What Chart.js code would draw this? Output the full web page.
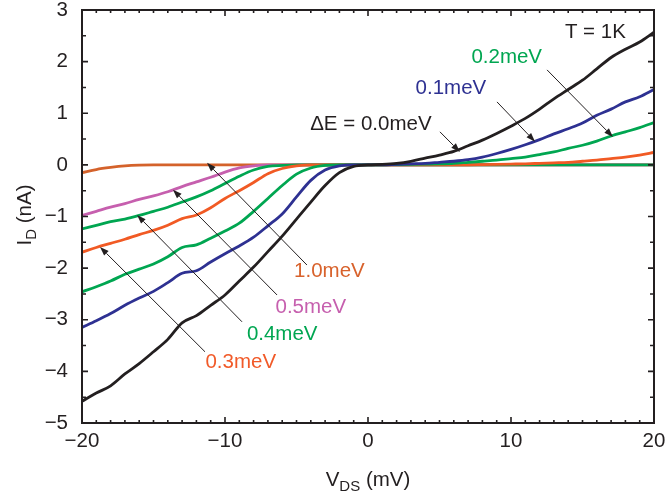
<!DOCTYPE html>
<html>
<head>
<meta charset="utf-8">
<script src="https://cdn.jsdelivr.net/npm/chart.js@4"></script>
<style>
  html, body { margin: 0; padding: 0; background: #fff; }
  #c { display: block; }
</style>
</head>
<body>
<canvas id="c" width="666" height="498"></canvas>
<script>
// V_DS (mV) sample points
const vds = [-20,-19,-18,-17,-16,-15,-14,-13,-12,-11,-10,-9,-8,-7,-6,-5,-4,-3,-2,-1,0,
             1,2,3,4,5,6,7,8,9,10,11,12,13,14,15,16,17,18,19,20];

// I_D (nA) for each ΔE
const id00 = [-4.58,-4.42,-4.28,-4.05,-3.85,-3.62,-3.38,-3.06,-2.92,-2.72,-2.52,-2.25,-1.98,-1.68,-1.38,-1.05,-0.72,-0.40,-0.15,-0.03,0,
              0.01,0.03,0.07,0.13,0.19,0.26,0.37,0.48,0.61,0.75,0.90,1.08,1.28,1.46,1.64,1.86,2.08,2.24,2.38,2.57];
const id01 = [-3.15,-3.02,-2.88,-2.72,-2.58,-2.45,-2.28,-2.10,-2.05,-1.88,-1.72,-1.57,-1.40,-1.18,-0.95,-0.62,-0.30,-0.10,-0.02,0,0,
              0,0.01,0.02,0.03,0.05,0.07,0.10,0.15,0.22,0.30,0.39,0.49,0.60,0.70,0.81,0.96,1.08,1.22,1.32,1.46];
const id02 = [-2.46,-2.36,-2.25,-2.12,-2.02,-1.92,-1.78,-1.60,-1.55,-1.42,-1.28,-1.13,-0.90,-0.65,-0.40,-0.18,-0.06,-0.01,0,0,0,
              0,0.005,0.01,0.015,0.02,0.03,0.05,0.07,0.09,0.12,0.15,0.20,0.25,0.32,0.38,0.46,0.56,0.64,0.72,0.82];
const id03 = [-1.69,-1.60,-1.52,-1.44,-1.35,-1.27,-1.17,-1.04,-0.97,-0.83,-0.65,-0.50,-0.34,-0.17,-0.07,-0.02,0,0,0,0,0,
              0,0,0,0,0,0,0,0.005,0.01,0.015,0.02,0.03,0.04,0.05,0.07,0.09,0.12,0.15,0.19,0.24];
const id04 = [-1.24,-1.17,-1.10,-1.05,-0.98,-0.90,-0.82,-0.72,-0.62,-0.50,-0.36,-0.22,-0.10,-0.03,-0.01,0,0,0,0,0,0,
              0,0,0,0,0,0,0,0,0,0,0,0,0,0,0,0,0,0,0,0];
const id05 = [-0.98,-0.90,-0.82,-0.75,-0.67,-0.60,-0.52,-0.42,-0.33,-0.24,-0.14,-0.06,-0.02,0,0,0,0,0,0,0,0,
              0,0,0,0,0,0,0,0,0,0,0,0,0,0,0,0,0,0,0,0];
const id10 = [-0.15,-0.09,-0.05,-0.02,-0.005,0,0,0,0,0,0,0,0,0,0,0,0,0,0,0,0,
              0,0,0,0,0,0,0,0,0,0,0,0,0,0,0,0,0,0,0,0];

const xTicks = [-20, -10, 0, 10, 20];
const yTicks = [-5, -4, -3, -2, -1, 0, 1, 2, 3];

// annotation texts (data coords of text centre) and arrows (from -> tip)
const notes = [
  { text: 'T = 1K',        x: 15.9, y: 2.56,  color: '#231f20' },
  { text: '0.2meV',        x: 9.7,  y: 2.09,  color: '#00a651' },
  { text: '0.1meV',        x: 5.8,  y: 1.49,  color: '#2e3192' },
  { text: '\u0394E = 0.0meV', x: 0.2, y: 0.78, color: '#231f20' },
  { text: '1.0meV',        x: -2.7, y: -2.07, color: '#d8622c' },
  { text: '0.5meV',        x: -4.0, y: -2.75, color: '#c65fae' },
  { text: '0.4meV',        x: -6.0, y: -3.29, color: '#00a651' },
  { text: '0.3meV',        x: -8.9, y: -3.82, color: '#f15a29' }
];
const arrows = [
  { x0: 5.03,  y0: 0.64,  x1: 6.43,   y1: 0.25 },
  { x0: 9.02,  y0: 1.22,  x1: 11.68,  y1: 0.45 },
  { x0: 12.52, y0: 1.84,  x1: 17.13,  y1: 0.54 },
  { x0: -4.27, y0: -1.94, x1: -11.26, y1: 0.04 },
  { x0: -6.36, y0: -2.52, x1: -13.64, y1: -0.48 },
  { x0: -8.81, y0: -3.04, x1: -16.15, y1: -0.97 },
  { x0: -11.4, y0: -3.62, x1: -18.74, y1: -1.59 }
];

const FONT = '"Liberation Sans", Arial, Helvetica, sans-serif';
const INK = '#231f20';
const FS = 20.5;

function pts(ys) { return vds.map((x, i) => ({ x: x, y: ys[i] })); }
function series(label, ys, color, order) {
  return { label: label, data: pts(ys), borderColor: color, borderWidth: 2.8, order: order,
           pointRadius: 0, cubicInterpolationMode: 'monotone', fill: false };
}

const frame = {
  id: 'frame',
  afterDatasetsDraw(chart) {
    const ctx = chart.ctx, a = chart.chartArea;
    const xs = chart.scales.x, ys = chart.scales.y;
    ctx.save();
    ctx.strokeStyle = INK;
    ctx.lineWidth = 1.6;
    ctx.beginPath();
    for (let v = -20; v <= 20; v += 1) {
      const px = xs.getPixelForValue(v);
      const len = (v % 10 === 0) ? 6 : 3;
      ctx.moveTo(px, a.bottom); ctx.lineTo(px, a.bottom - len);
      ctx.moveTo(px, a.top); ctx.lineTo(px, a.top + len);
    }
    for (let v = -5; v <= 3; v += 0.5) {
      const py = ys.getPixelForValue(v);
      const len = Number.isInteger(v) ? 6 : 4;
      ctx.moveTo(a.left, py); ctx.lineTo(a.left + len, py);
      ctx.moveTo(a.right, py); ctx.lineTo(a.right - len, py);
    }
    ctx.stroke();
    ctx.lineWidth = 2;
    ctx.strokeRect(a.left, a.top, a.right - a.left, a.bottom - a.top);

    // arrows
    ctx.lineWidth = 1;
    ctx.fillStyle = INK;
    arrows.forEach(ar => {
      const x0 = xs.getPixelForValue(ar.x0), y0 = ys.getPixelForValue(ar.y0);
      const x1 = xs.getPixelForValue(ar.x1), y1 = ys.getPixelForValue(ar.y1);
      const ang = Math.atan2(y1 - y0, x1 - x0);
      const hl = 9, hw = 3.2;
      const bx = x1 - hl * Math.cos(ang), by = y1 - hl * Math.sin(ang);
      ctx.beginPath(); ctx.moveTo(x0, y0); ctx.lineTo(bx, by); ctx.stroke();
      ctx.beginPath();
      ctx.moveTo(x1, y1);
      ctx.lineTo(bx + hw * Math.sin(ang), by - hw * Math.cos(ang));
      ctx.lineTo(bx - hw * Math.sin(ang), by + hw * Math.cos(ang));
      ctx.closePath(); ctx.fill();
    });

    // labels
    ctx.font = FS + 'px ' + FONT;
    ctx.textAlign = 'center';
    ctx.textBaseline = 'middle';
    notes.forEach(n => {
      ctx.fillStyle = n.color;
      ctx.fillText(n.text, xs.getPixelForValue(n.x), ys.getPixelForValue(n.y));
    });

    // axis titles with subscripts
    function subTitle(main, sub, rest, cx, cy, rot) {
      ctx.save();
      ctx.translate(cx, cy);
      if (rot) ctx.rotate(-Math.PI / 2);
      ctx.fillStyle = INK;
      ctx.textBaseline = 'alphabetic';
      ctx.textAlign = 'left';
      const big = FS + 'px ' + FONT, small = '15px ' + FONT;
      ctx.font = big; const w1 = ctx.measureText(main).width;
      ctx.font = small; const w2 = ctx.measureText(sub).width;
      ctx.font = big; const w3 = ctx.measureText(rest).width;
      let x = -(w1 + w2 + w3) / 2;
      const base = 7;
      ctx.font = big; ctx.fillText(main, x, base); x += w1;
      ctx.font = small; ctx.fillText(sub, x, base + 5); x += w2;
      ctx.font = big; ctx.fillText(rest, x, base);
      ctx.restore();
    }
    subTitle('V', 'DS', ' (mV)', (a.left + a.right) / 2, 479, false);
    subTitle('I', 'D', ' (nA)', 24, 215, true);
    ctx.restore();
  }
};

function minus(v) { return String(v).replace('-', '\u2212'); }

new Chart(document.getElementById('c').getContext('2d'), {
  type: 'line',
  data: {
    datasets: [
      series('1.0meV', id10, '#d4622b', 6),
      series('0.5meV', id05, '#c65fae', 5),
      series('0.4meV', id04, '#00a651', 4),
      series('0.3meV', id03, '#f15a24', 3),
      series('0.2meV', id02, '#00a651', 2),
      series('0.1meV', id01, '#2e3192', 1),
      series('0.0meV', id00, '#231f20', 0)
    ]
  },
  options: {
    responsive: false,
    animation: false,
    layout: { padding: { top: 10, right: 12, left: 0, bottom: 0 } },
    plugins: { legend: { display: false }, tooltip: { enabled: false } },
    scales: {
      x: {
        type: 'linear', min: -20, max: 20,
        afterBuildTicks(s) { s.ticks = xTicks.map(v => ({ value: v })); },
        afterFit(s) { s.height = 75; s.paddingLeft = 0; s.paddingRight = 0; },
        grid: { display: false, drawTicks: false },
        border: { display: false },
        ticks: { color: INK, font: { size: FS, family: FONT, lineHeight: 1 }, padding: 8, maxRotation: 0,
                 callback: v => minus(v) }
      },
      y: {
        type: 'linear', min: -5, max: 3,
        afterBuildTicks(s) { s.ticks = yTicks.map(v => ({ value: v })); },
        afterFit(s) { s.width = 82; s.paddingTop = 0; s.paddingBottom = 0; },
        grid: { display: false, drawTicks: false },
        border: { display: false },
        ticks: { color: INK, font: { size: FS, family: FONT, lineHeight: 1 }, padding: 14,
                 callback: v => minus(v) }
      }
    }
  },
  plugins: [frame]
});
</script>
</body>
</html>
